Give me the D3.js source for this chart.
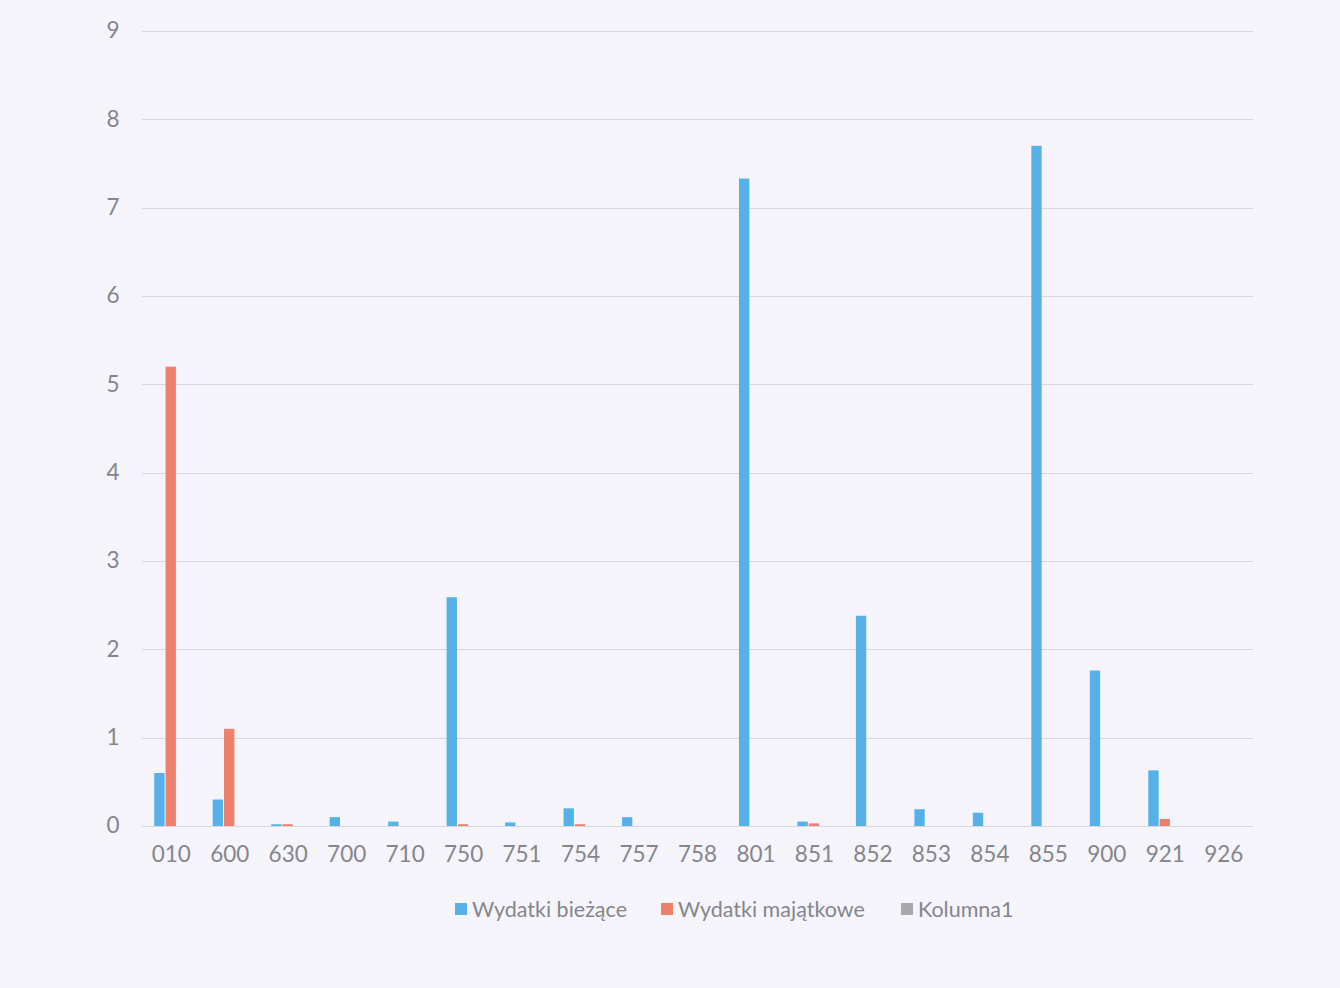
<!DOCTYPE html>
<html><head><meta charset="utf-8">
<script src="https://cdn.jsdelivr.net/npm/d3@7"></script>
<style>html,body{margin:0;padding:0;background:#f4f4fa;}svg{display:block;}</style>
</head><body>
<svg id="chart" width="1340" height="988"></svg>
<script>
const categories = ["010","600","630","700","710","750","751","754","757","758","801","851","852","853","854","855","900","921","926"];
const wydatkiBiezace = [0.6,0.3,0.02,0.1,0.05,2.59,0.04,0.2,0.1,0,7.33,0.05,2.38,0.19,0.15,7.7,1.76,0.63,0];
const wydatkiMajatkowe = [5.2,1.1,0.02,0,0,0.02,0,0.02,0,0,0,0.03,0,0,0,0,0,0.08,0];
const kolumna1 = [0,0,0,0,0,0,0,0,0,0,0,0,0,0,0,0,0,0,0];
const seriesNames = ["Wydatki bieżące","Wydatki majątkowe","Kolumna1"];
const seriesColors = ["#56b1e8","#ee7f6a","#a9a9ad"];
const yTicks = [0,1,2,3,4,5,6,7,8,9];

(function(){
const svg = d3.select("#chart");
const mLeft = 142, mRight = 1253, mTop = 31, mBottom = 826;
const x = d3.scaleBand().domain(categories).range([mLeft,mRight]).paddingInner(0).paddingOuter(0);
const y = d3.scaleLinear().domain([0,9]).range([mBottom,mTop]);
const seriesData = [wydatkiBiezace, wydatkiMajatkowe, kolumna1];
const xs = d3.scaleBand().domain(d3.range(3)).range([0,34]);
const groupOffset = (x.bandwidth()-34)/2;
const font = "Lato, Calibri, sans-serif";
const fs = "22.5px";
const tcol = "#85858b";

// gridlines
svg.append("g").selectAll("line").data(yTicks).join("line")
  .attr("x1",mLeft).attr("x2",mRight)
  .attr("y1",d=>Math.round(y(d))+0.5).attr("y2",d=>Math.round(y(d))+0.5)
  .attr("stroke","#d6d6dc").attr("stroke-width",1);

// y axis
const yAxis = d3.axisLeft(y).tickValues(yTicks).tickSize(0).tickPadding(22).tickFormat(d3.format("d"));
const gy = svg.append("g").attr("transform",`translate(${mLeft},0)`).call(yAxis);
gy.select(".domain").remove();
gy.selectAll("text").attr("fill",tcol).style("font-family",font).style("font-size",fs).attr("text-anchor","middle").attr("dx","-7").attr("dy","0.3em");

// bars
seriesData.forEach((arr,si)=>{
  svg.append("g").selectAll("rect").data(arr.map((v,i)=>({c:categories[i],v}))).join("rect")
    .attr("x",d=>x(d.c)+groupOffset+xs(si))
    .attr("width",xs.bandwidth()-1)
    .attr("y",d=>y(d.v))
    .attr("height",d=>y(0)-y(d.v))
    .attr("fill",seriesColors[si]);
});

// x axis
const xAxis = d3.axisBottom(x).tickSize(0).tickPadding(20);
const gx = svg.append("g").attr("transform",`translate(0,${mBottom})`).call(xAxis);
gx.select(".domain").remove();
gx.selectAll("text").attr("fill",tcol).style("font-family",font).style("font-size",fs);

// legend
const legendX = [455,661,901];
const lg = svg.append("g");
seriesNames.forEach((n,i)=>{
  lg.append("rect").attr("x",legendX[i]).attr("y",903).attr("width",12).attr("height",12).attr("fill",seriesColors[i]);
  lg.append("text").attr("x",legendX[i]+17).attr("y",917).text(n)
    .attr("fill",tcol).style("font-family",font).style("font-size","21.5px");
});
})();
</script>
</body></html>
